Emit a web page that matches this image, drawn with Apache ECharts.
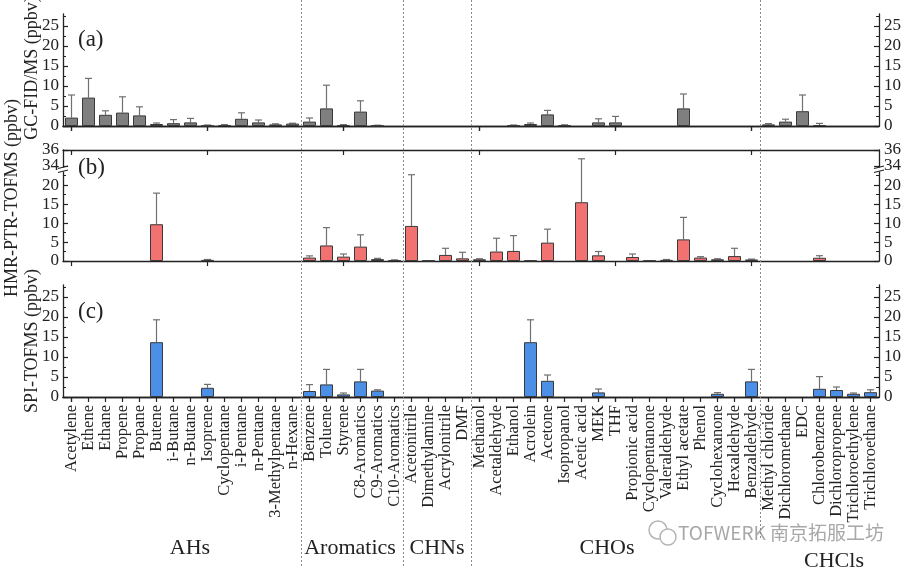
<!DOCTYPE html>
<html><head><meta charset="utf-8">
<script src="https://cdn.jsdelivr.net/npm/echarts@6/dist/echarts.min.js"></script>
<style>html,body{margin:0;padding:0;background:#fff}#c{width:906px;height:574px}</style>
</head><body><div id="c"></div>
<script>
const categories = ['Acetylene','Ethene','Ethane','Propene','Propane','Butene','i-Butane','n-Butane','Isoprene','Cyclopentane','i-Pentane','n-Pentane','3-Methylpentane','n-Hexane',
  'Benzene','Toluene','Styrene','C8-Aromatics','C9-Aromatics','C10-Aromatics',
  'Acetonitrile','Dimethylamine','Acrylonitrile','DMF',
  'Methanol','Acetaldehyde','Ethanol','Acrolein','Acetone','Isopropanol','Acetic acid','MEK','THF','Propionic acid','Cyclopentanone','Valeraldehyde','Ethyl acetate','Phenol','Cyclohexanone','Hexaldehyde','Benzaldehyde',
  'Methyl chloride','Dichloromethane','EDC','Chlorobenzene','Dichloropropene','Trichloroethylene','Trichloroethane'];
const groups = ['AHs','Aromatics','CHNs','CHOs','CHCls'];
const groupStarts = [0,14,20,24,41];

// (a) GC-FID/MS
const gcValues = [2.1,7.1,2.8,3.35,2.65,0.5,0.7,0.9,0.1,0.25,1.8,0.9,0.4,0.6,
  1.1,4.4,0.25,3.6,0.1,null,
  null,null,null,null,
  null,null,0.15,0.5,2.9,0.25,null,0.9,0.9,null,null,null,4.4,null,null,null,null,
  0.4,1.1,3.7,0.25,null,null,null];
const gcSD = [5.65,4.8,1.0,3.95,2.15,0.25,0.9,1.0,0.15,0.1,1.5,0.6,0.15,0.1,
  0.9,5.8,0.1,2.7,0.1,null,
  null,null,null,null,
  null,null,0.1,0.25,1.0,0.05,null,0.9,1.5,null,null,null,3.6,null,null,null,null,
  0.2,0.6,4.05,0.4,null,null,null];
// (b) HMR-PTR-TOFMS
const ptrValues = [null,null,null,null,null,9.7,null,null,0.3,null,null,null,null,null,
  0.9,4.1,1.15,3.8,0.5,0.25,
  9.25,0.1,1.6,0.7,
  0.45,2.5,2.65,0.1,4.85,null,15.5,1.5,null,1.05,0.1,0.3,5.7,0.9,0.45,1.3,0.4,
  null,null,null,0.85,null,null,null];
const ptrSD = [null,null,null,null,null,8.2,null,null,0.1,null,null,null,null,null,
  0.45,4.7,0.7,3.1,0.2,0.05,
  13.5,0,1.75,1.6,
  0.15,3.5,4.05,0,3.55,null,19.4,1.0,null,0.8,0,0.1,5.8,0.25,0.15,2.05,0.1,
  null,null,null,0.55,null,null,null];
// (c) SPI-TOFMS
const spiValues = [null,null,null,null,null,13.7,null,null,2.3,null,null,null,null,null,
  1.5,3.15,0.65,3.9,1.6,null,
  null,null,null,null,
  null,null,null,13.7,4.05,null,null,1.15,null,null,null,null,null,null,0.8,null,3.9,
  null,null,null,2.05,1.75,0.8,1.2];
const spiSD = [null,null,null,null,null,5.6,null,null,0.85,null,null,null,null,null,
  1.6,3.75,0.35,3.0,0.2,null,
  null,null,null,null,
  null,null,null,5.6,1.45,null,null,0.85,null,null,null,null,null,null,0.3,null,3.0,
  null,null,null,3.05,0.75,0.2,0.6];
const yTicksMain = [0,5,10,15,20,25];
const yTicksLow = [0,5,10,15,20];
const yTicksUp = [34,36];
const yLabelUpLow = [34];
const yLabelUpTop = [36];

const SERIF = 'Liberation Serif';
const AX = '#222';
const L = 63, W = 816;
const grids = [
  {left:L, width:W, top:14, height:112},
  {left:L, width:W, top:150, height:20},
  {left:L, width:W, top:170, height:91},
  {left:L, width:W, top:285, height:112}
];
function xAx(g, pos, opts) {
  return Object.assign({
    type:'category', gridIndex:g, position:pos, data:categories, boundaryGap:true,
    axisLine:{show:true, lineStyle:{color:AX, width:1.3}},
    axisTick:{show:true, alignWithLabel:true, inside:pos==='top', length:5, lineStyle:{color:AX, width:1.2}},
    axisLabel:{show:false}, splitLine:{show:false}
  }, opts || {});
}
function yAx(g, pos, min, max, interval, ticks, labels, opts) {
  const o = {
    type:'value', gridIndex:g, position:pos, offset:0, min:min, max:max,
    axisLine:{show:true, lineStyle:{color:AX, width:1.3}},
    axisTick:{show:true, inside:true, length:5, customValues:ticks, lineStyle:{color:AX, width:1.2}},
    minorTick:{show:interval!=null, splitNumber:2, length:3, lineStyle:{color:AX, width:1}},
    axisLabel:{show:true, customValues:labels, showMinLabel:true, showMaxLabel:true, hideOverlap:false,
      margin:pos==='left'?4:5, fontFamily:SERIF, fontSize:17, color:AX},
    splitLine:{show:false}
  };
  if (interval != null) o.interval = interval;
  return Object.assign(o, opts || {});
}
const labelOnly = {axisLine:{show:false}, axisTick:{show:false}, minorTick:{show:false}};
const xAxis = [
  xAx(0,'bottom'), xAx(0,'top'),
  xAx(1,'bottom',{show:false}), xAx(1,'top'),
  xAx(2,'bottom'),
  xAx(3,'bottom',{axisLabel:{show:true, interval:0, rotate:90, margin:8, fontFamily:SERIF, fontSize:16.5, color:AX}}),
  xAx(3,'top')
];
const yAxis = [
  yAx(0,'left',0,28,5,yTicksMain,yTicksMain), yAx(0,'right',0,28,5,yTicksMain,yTicksMain),
  yAx(1,'left',33.5,36,null,yTicksUp,yLabelUpLow), yAx(1,'right',33.5,36,null,yTicksUp,yLabelUpLow),
  yAx(2,'left',0,24,5,yTicksLow,yTicksLow), yAx(2,'right',0,24,5,yTicksLow,yTicksLow),
  yAx(3,'left',0,28,5,yTicksMain,yTicksMain), yAx(3,'right',0,28,5,yTicksMain,yTicksMain),
  yAx(1,'left',33.5,36,null,yTicksUp,yLabelUpTop,labelOnly), yAx(1,'right',33.5,36,null,yTicksUp,yLabelUpTop,labelOnly)
];
function barSeries(vals, xi, yi, color) {
  return {type:'bar', xAxisIndex:xi, yAxisIndex:yi, data:vals, barWidth:13,
    itemStyle:{color:color, borderColor:'#3a3a3a', borderWidth:1}, z:3};
}
function errData(vals, sds) {
  const out = [];
  vals.forEach((v,i)=>{ if (v != null && sds[i] != null) out.push([i, v, sds[i]]); });
  return out;
}
function errRender(params, api) {
  const i = api.value(0), v = api.value(1), sd = api.value(2);
  const b = api.coord([i, v]);
  const t = api.coord([i, v + sd]);
  const hw = 3.5;
  const st = {stroke:'#707070', lineWidth:1.2};
  return {type:'group', children:[
    {type:'line', shape:{x1:b[0], y1:b[1], x2:t[0], y2:t[1]}, style:st},
    {type:'line', shape:{x1:t[0]-hw, y1:t[1], x2:t[0]+hw, y2:t[1]}, style:st}
  ]};
}
function errSeries(vals, sds, xi, yi) {
  return {type:'custom', xAxisIndex:xi, yAxisIndex:yi, data:errData(vals, sds),
    renderItem:errRender, clip:true, z:2, silent:true};
}
const series = [
  barSeries(gcValues, 0, 0, '#7f7f7f'), errSeries(gcValues, gcSD, 0, 0),
  barSeries(ptrValues, 4, 4, '#f27171'), errSeries(ptrValues, ptrSD, 4, 4),
  errSeries(ptrValues, ptrSD, 2, 2),
  barSeries(spiValues, 5, 6, '#4b8fe6'), errSeries(spiValues, spiSD, 5, 6)
];

// decorations
const graphic = [];
const colW = W / categories.length;
groupStarts.slice(1).forEach((k, j) => {
  const x = Math.round(L + k * colW) + 0.5;
  graphic.push({type:'line', silent:true, z:1, shape:{x1:x, y1:0, x2:x, y2: j === 3 ? 540 : 566},
    style:{stroke:'#8a8a8a', lineWidth:1, lineDash:[2,2]}});
});
const titles = [
  {text:'GC-FID/MS (ppbv)', x:32, y:68},
  {text:'HMR-PTR-TOFMS (ppbv)', x:12, y:198},
  {text:'SPI-TOFMS (ppbv)', x:32, y:341}
];
titles.forEach(t => graphic.push({type:'text', x:t.x, y:t.y, rotation:Math.PI/2,
  style:{text:t.text, fontFamily:SERIF, fontSize:18, fill:AX, align:'center', verticalAlign:'middle'}}));
[['(a)',40],['(b)',168],['(c)',312]].forEach(p => graphic.push({type:'text', x:78, y:p[1],
  style:{text:p[0], fontFamily:SERIF, fontSize:23, fill:AX, align:'left', verticalAlign:'middle'}}));
const groupPos = [[190,548],[350,548],[437,548],[607,548],[834,561]];
groups.forEach((g, j) => graphic.push({type:'text', x:groupPos[j][0], y:groupPos[j][1],
  style:{text:g, fontFamily:SERIF, fontSize:22, fill:AX, align:'center', verticalAlign:'middle'}}));
// axis break marks for panel (b)
[L, L + W].forEach(x => {
  graphic.push({type:'rect', z:10, shape:{x:x-4, y:167.5, width:8, height:4}, style:{fill:'#fff'}});
  graphic.push({type:'line', z:11, shape:{x1:x-5, y1:168.5, x2:x+5, y2:166}, style:{stroke:AX, lineWidth:1.2}});
  graphic.push({type:'line', z:11, shape:{x1:x-5, y1:172.5, x2:x+5, y2:170}, style:{stroke:AX, lineWidth:1.2}});
});
// watermark
graphic.push({type:'circle', z:0, shape:{cx:658, cy:530, r:9}, style:{fill:'none', stroke:'#b5b5b5', lineWidth:1.5}});
graphic.push({type:'circle', z:0, shape:{cx:668, cy:537, r:8}, style:{fill:'#fff', stroke:'#b5b5b5', lineWidth:1.5}});
graphic.push({type:'text', z:0, x:678, y:533, style:{text:'TOFWERK 南京拓服工坊', fontFamily:'Noto Sans CJK SC', fontSize:19, fill:'#a8a8a8', align:'left', verticalAlign:'middle'}});

const chart = echarts.init(document.getElementById('c'), null, {renderer:'canvas'});
chart.setOption({animation:false, backgroundColor:'#fff', grid:grids, xAxis:xAxis, yAxis:yAxis, series:series, graphic:graphic});
</script></body></html>
